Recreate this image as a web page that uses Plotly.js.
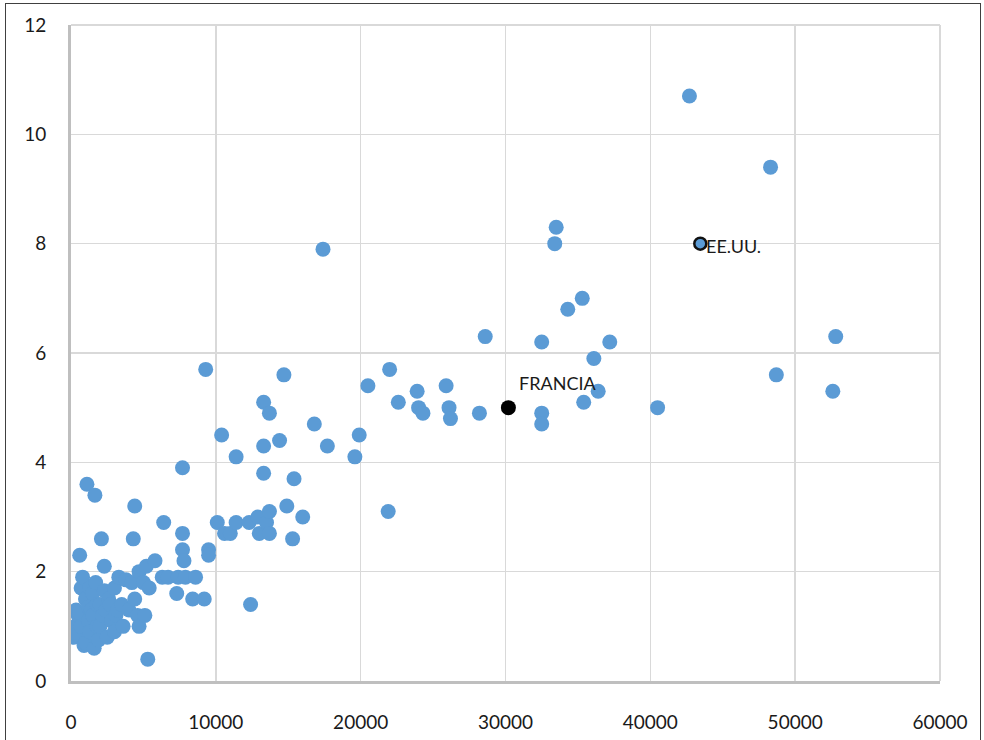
<!DOCTYPE html>
<html>
<head>
<meta charset="utf-8">
<script src="https://cdn.plot.ly/plotly-3.0.1.min.js"></script>
<style>
html,body{margin:0;padding:0;background:#fff;overflow:hidden;}
#chart{width:984px;height:740px;}
#frame{position:absolute;left:5px;top:3px;width:974px;height:800px;border:1px solid #404040;pointer-events:none;}
</style>
</head>
<body>
<div id="chart"></div>
<div id="frame"></div>
<script>
// Country points: x = income per capita, y = value
const xValues = [
  200, 300, 350, 400, 500, 600, 600, 700, 700, 800, 900, 1000, 1000, 1100, 1200, 1200, 1300, 1300, 1400, 1500,
  1500, 1600, 1650, 1700, 1800, 1800, 1900, 2000, 2000, 2100, 2200, 2300, 2300, 2400, 2500, 2600, 2700, 2800, 3000, 3000,
  3100, 3200, 3300, 3500, 3600, 3800, 4000, 4200, 4300, 4400, 4400, 4600, 4700, 4700, 5000, 5100, 5200, 5300, 5400, 5800,
  6300, 6400, 6700, 7300, 7400, 7700, 7700, 7700, 7800, 7900, 8400, 8600, 9200, 9300, 9500, 9500,
  10100, 10400, 10600, 11000, 11400, 11400, 12300, 12400, 12900, 13000, 13300, 13300, 13300, 13500, 13700, 13700, 13700,
  14400, 14700, 14900, 15300, 15400, 16000, 16800, 17400, 17700, 19600, 19900, 20500, 21900, 22000, 22600, 23900, 24000,
  24300, 25900, 26100, 26200, 28200, 28600, 32500, 32500, 32500, 33400, 33500, 34300, 35300, 35400, 36100, 36400, 37200,
  40500, 42700, 48300, 48700, 52600, 52800
];
const yValues = [
  0.8, 1.0, 1.3, 0.85, 1.2, 2.3, 1.25, 1.7, 1.0, 1.9, 0.65, 1.5, 0.7, 3.6, 1.1, 1.35, 0.9, 1.7, 1.3, 1.6,
  1.2, 0.6, 3.4, 1.8, 1.0, 1.4, 0.75, 1.4, 1.0, 2.6, 1.2, 2.1, 1.65, 1.3, 0.8, 1.5, 1.4, 1.1, 1.7, 0.9,
  1.2, 1.3, 1.9, 1.4, 1.0, 1.85, 1.3, 1.8, 2.6, 3.2, 1.5, 1.2, 2.0, 1.0, 1.8, 1.2, 2.1, 0.4, 1.7, 2.2,
  1.9, 2.9, 1.9, 1.6, 1.9, 2.7, 2.4, 3.9, 2.2, 1.9, 1.5, 1.9, 1.5, 5.7, 2.4, 2.3,
  2.9, 4.5, 2.7, 2.7, 4.1, 2.9, 2.9, 1.4, 3.0, 2.7, 5.1, 4.3, 3.8, 2.9, 4.9, 3.1, 2.7,
  4.4, 5.6, 3.2, 2.6, 3.7, 3.0, 4.7, 7.9, 4.3, 4.1, 4.5, 5.4, 3.1, 5.7, 5.1, 5.3, 5.0,
  4.9, 5.4, 5.0, 4.8, 4.9, 6.3, 6.2, 4.9, 4.7, 8.0, 8.3, 6.8, 7.0, 5.1, 5.9, 5.3, 6.2,
  5.0, 10.7, 9.4, 5.6, 5.3, 6.3
];
// Highlighted countries
const franceName = "FRANCIA";
const franceX = [30200];
const franceY = [5.0];
const usaName = "EE.UU.";
const usaX = [43450];
const usaY = [8.0];

const xTicks = [0, 10000, 20000, 30000, 40000, 50000, 60000];
const yTicks = [0, 2, 4, 6, 8, 10, 12];

const tickFont = {family: "Lato, 'Open Sans', sans-serif", size: 19, color: "#1a1a1a"};
const labelFont = {family: "Lato, 'Open Sans', sans-serif", size: 18, color: "#1a1a1a"};

const traces = [
  {
    type: "scatter", mode: "markers", x: xValues, y: yValues,
    marker: {color: "#5b9bd5", size: 15, line: {width: 0}},
    hoverinfo: "x+y"
  },
  {
    type: "scatter", mode: "markers", x: franceX, y: franceY,
    marker: {color: "#000000", size: 15, line: {width: 0}}
  },
  {
    type: "scatter", mode: "markers", x: usaX, y: usaY,
    marker: {color: "#5b9bd5", size: 12, line: {width: 2.5, color: "#111111"}}
  }
];

const layout = {
  width: 984, height: 740,
  margin: {l: 71, r: 44, t: 25, b: 59},
  paper_bgcolor: "#ffffff", plot_bgcolor: "#ffffff",
  showlegend: false,
  xaxis: {
    range: [0, 60000], tickvals: xTicks, ticktext: xTicks.map(String),
    showgrid: true, gridcolor: "#d9d9d9", gridwidth: 1.5,
    zeroline: false, showline: true, linecolor: "#bfbfbf", linewidth: 3,
    ticks: "outside", ticklen: 22, tickcolor: "rgba(0,0,0,0)",
    tickfont: tickFont, mirror: false
  },
  yaxis: {
    range: [0, 12], tickvals: yTicks, ticktext: yTicks.map(String),
    showgrid: true, gridcolor: "#d9d9d9", gridwidth: 1.5,
    zeroline: false, showline: true, linecolor: "#bfbfbf", linewidth: 3,
    ticks: "outside", ticklen: 18, tickcolor: "rgba(0,0,0,0)",
    tickfont: tickFont
  },
  shapes: [
    {type: "line", xref: "paper", yref: "paper", x0: 0, x1: 1, y0: 1, y1: 1,
     line: {color: "#d9d9d9", width: 2}, layer: "below"},
    {type: "line", xref: "paper", yref: "paper", x0: 1, x1: 1, y0: 0, y1: 1,
     line: {color: "#d9d9d9", width: 2}, layer: "below"}
  ],
  annotations: [
    {x: franceX[0], y: franceY[0], xref: "x", yref: "y", text: franceName, showarrow: false,
     xanchor: "left", yanchor: "middle", xshift: 9, yshift: 25, font: labelFont},
    {x: usaX[0], y: usaY[0], xref: "x", yref: "y", text: usaName, showarrow: false,
     xanchor: "left", yanchor: "middle", xshift: 4, yshift: -2, font: labelFont}
  ]
};

Plotly.newPlot("chart", traces, layout, {displayModeBar: false, staticPlot: true});
</script>
</body>
</html>
